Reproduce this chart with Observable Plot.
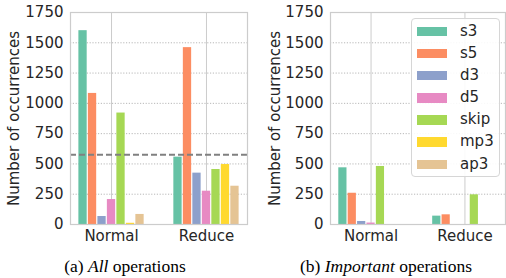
<!DOCTYPE html>
<html><head><meta charset="utf-8">
<script src="https://cdn.jsdelivr.net/npm/d3@7"></script>
<script src="https://cdn.jsdelivr.net/npm/@observablehq/plot@0.6"></script>
<style>
body{margin:0;background:#fff;width:506px;height:278px;overflow:hidden;position:relative;font-family:"DejaVu Sans",sans-serif;}
.panel{position:absolute;top:0;width:253px;}
.cap{position:absolute;top:256px;font-family:"Liberation Serif","Times New Roman",serif;font-size:17.5px;line-height:20px;color:#000;white-space:nowrap;transform:translateX(-50%);}
.legend{position:absolute;left:411px;top:18px;width:89px;height:159px;border:1px solid #d6d6d6;border-radius:4px;background:rgba(255,255,255,0.9);box-sizing:border-box;font-size:15px;color:#262626;}
.legend .row{position:absolute;left:5px;height:16px;line-height:16px;}
.legend .sw{position:absolute;left:0;top:3px;width:30px;height:9.5px;}
.legend .lb{position:absolute;left:43px;top:-1px;}
</style>
</head><body>
<div id="a" class="panel" style="left:0"></div>
<div id="b" class="panel" style="left:253px"></div>
<div id="leg" class="legend"></div>
<div class="cap" style="left:125px">(a) <i>All</i> operations</div>
<div class="cap" style="left:386px">(b) <i>Important</i> operations</div>
<script>
const categories = ["Normal", "Reduce"];
const ops = ["s3", "s5", "d3", "d5", "skip", "mp3", "ap3"];
const colors = ["#66c2a5", "#fc8d62", "#8da0cb", "#e78ac3", "#a6d854", "#ffd92f", "#e5c494"];
const allNormal = [1600, 1082, 66, 206, 920, 10, 83];
const allReduce = [556, 1460, 424, 275, 454, 495, 316];
const impNormal = [468, 258, 25, 12, 479, 0, 0];
const impReduce = [69, 80, 0, 0, 245, 0, 0];
const allMean = 575;
const yTicks = [0, 250, 500, 750, 1000, 1250, 1500, 1750];

function rows(normal, reduce) {
  const out = [];
  [normal, reduce].forEach((vals, i) => {
    vals.forEach((v, j) => out.push({cat: categories[i], ci: i, op: ops[j], oj: j, value: v}));
  });
  return out;
}

function panel(data, opts) {
  const w = 0.1;
  const marks = [
    Plot.ruleY(yTicks.slice(1, -1), {stroke: "#b8b8b8", strokeDasharray: "1.2,1.6", strokeWidth: 1}),
    Plot.ruleX([0, 1], {stroke: "#cccccc", strokeWidth: 1}),
    Plot.rectY(data, {
      x1: d => d.ci - 0.35 + d.oj * w,
      x2: d => d.ci - 0.35 + (d.oj + 1) * w,
      y1: 0, y2: "value",
      fill: "op", insetLeft: 0.6, insetRight: 0.6
    }),
  ];
  if (opts.mean != null) {
    marks.push(Plot.ruleY([opts.mean], {stroke: "#808080", strokeWidth: 2, strokeDasharray: "6,3"}));
  }
  marks.push(Plot.frame({stroke: "#cccccc", strokeWidth: 1.2}));
  return Plot.plot({
    width: 253, height: 250,
    marginLeft: opts.ml, marginRight: opts.mr, marginTop: 12, marginBottom: 26,
    style: {fontFamily: "DejaVu Sans, sans-serif", fontSize: "15px", color: "#262626", background: "white"},
    x: {type: "linear", domain: [-0.432, 1.432], ticks: [0, 1], tickFormat: i => categories[i], tickSize: 0, tickPadding: 6, label: null},
    y: {domain: [0, 1750], ticks: yTicks, tickFormat: "d", tickSize: 0, tickPadding: 7, label: "Number of occurrences", labelAnchor: "center", labelOffset: opts.lo, labelArrow: "none"},
    color: {domain: ops, range: colors},
    marks
  });
}

document.getElementById("a").append(panel(rows(allNormal, allReduce), {ml: 70, mr: 6, lo: 62, mean: allMean}));
document.getElementById("b").append(panel(rows(impNormal, impReduce), {ml: 77, mr: 1, lo: 61}));

const leg = document.getElementById("leg");
ops.forEach((op, j) => {
  const r = document.createElement("div");
  r.className = "row";
  r.style.top = (4.5 + j * 22.17) + "px";
  r.innerHTML = `<span class="sw" style="background:${colors[j]}"></span><span class="lb">${op}</span>`;
  leg.append(r);
});
</script>
</body></html>
